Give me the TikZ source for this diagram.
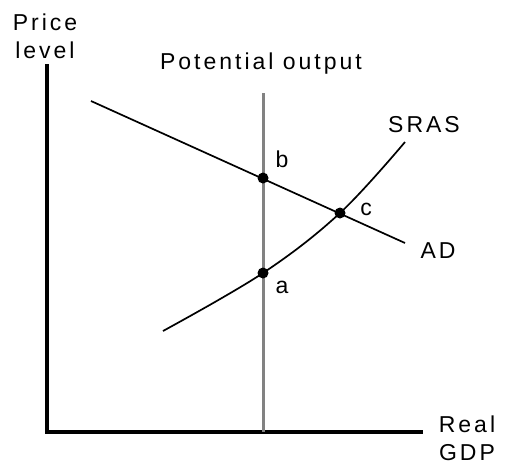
\documentclass[tikz,border=0pt]{standalone}
\usepackage{fontspec}
\setmainfont{Liberation Sans}[LetterSpace=13]
\definecolor{potgray}{RGB}{130,130,130}
\begin{document}
\begin{tikzpicture}[x=1pt,y=-1pt,
  lbl/.style={inner sep=0pt,font=\fontsize{23}{28}\selectfont,anchor=base},
  axis/.style={line width=3.2pt,black},
  potline/.style={line width=3pt,potgray},
  curve/.style={line width=1.7pt,black},
  pt/.style={circle,fill=black,inner sep=0pt,minimum size=11pt}]
\useasboundingbox (0,0) rectangle (508,467);
% axes
\coordinate (ytop) at (47,64);
\coordinate (orig) at (47,432);
\coordinate (xend) at (423,432);
\draw[axis] (ytop) -- (orig) -- (xend);
% potential output
\coordinate (ptop) at (263,93);
\coordinate (pbot) at (263,432);
\draw[potline] (ptop) -- (pbot);
% AD
\coordinate (ad0) at (91,101);
\coordinate (ad1) at (405,243);
\draw[curve] (ad0) -- (ad1);
% SRAS
\coordinate (s0) at (163,331);
\coordinate (pa) at (263,273);
\coordinate (pc) at (340,213);
\coordinate (s1) at (405,142);
\draw[curve] plot[smooth,tension=0.6] coordinates {(s0) (pa) (pc) (s1)};
% points
\node[pt] (a) at (263,273) {};
\node[pt] (b) at (263,178) {};
\node[pt] (c) at (340,213) {};
% labels
\node[lbl,align=center] (yl) at (45,58) {Price\\level};
\node[lbl] (pl) at (261,69) {Potential output};
\node[lbl] (sl) at (424,132) {SRAS};
\node[lbl] (adl) at (438,258) {AD};
\node[lbl] (bl) at (282,167) {b};
\node[lbl] (cl) at (366,215) {c};
\node[lbl] (al) at (282,293) {a};
\node[lbl,align=center] (xl) at (467,460) {Real\\GDP};
\end{tikzpicture}
\end{document}
